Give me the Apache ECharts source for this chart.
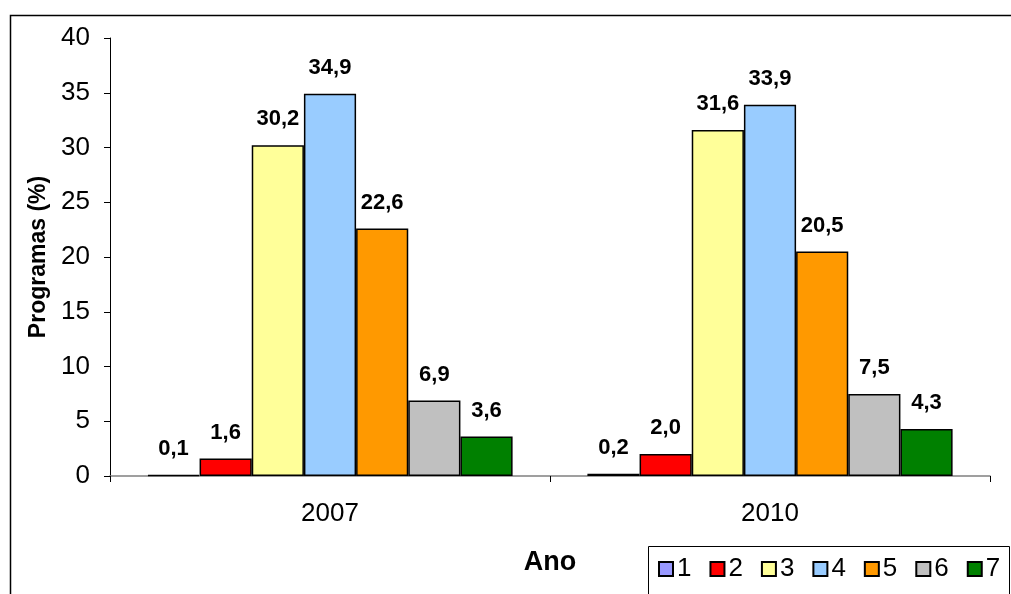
<!DOCTYPE html>
<html>
<head>
<meta charset="utf-8">
<script src="https://cdn.jsdelivr.net/npm/echarts@6/dist/echarts.min.js"></script>
<style>
  html, body { margin: 0; padding: 0; background: #fff; }
  #chart { width: 1011px; height: 594px; }
</style>
</head>
<body>
<div id="chart"></div>
<script>
const anos = ['2007', '2010'];
const seriesNames = ['1', '2', '3', '4', '5', '6', '7'];
const s1 = [0.1, 0.2];
const s2 = [1.6, 2.0];
const s3 = [30.2, 31.6];
const s4 = [34.9, 33.9];
const s5 = [22.6, 20.5];
const s6 = [6.9, 7.5];
const s7 = [3.6, 4.3];
const valores = [s1, s2, s3, s4, s5, s6, s7];
const cores = ['#9999FF', '#FF0000', '#FFFF99', '#99CCFF', '#FF9900', '#C0C0C0', '#008000'];

const font = 'Liberation Sans, Arial, sans-serif';
const myChart = echarts.init(document.getElementById('chart'));

const option = {
  backgroundColor: '#fff',
  animation: false,
  graphic: [
    {
      type: 'rect',
      shape: { x: 10.5, y: 15.5, width: 1100, height: 700 },
      style: { fill: 'none', stroke: '#000', lineWidth: 1.5 },
      z: 0
    },
    {
      // caixa da legenda
      type: 'rect',
      shape: { x: 648.5, y: 546.5, width: 361, height: 100 },
      style: { fill: '#fff', stroke: '#000', lineWidth: 1 },
      z: 1
    }
  ],
  grid: { left: 110, right: 21, top: 38, bottom: 118 },
  legend: {
    data: seriesNames,
    left: 658,
    top: 556,
    padding: 0,
    icon: 'rect',
    itemWidth: 14,
    itemHeight: 14,
    itemGap: 18,
    textStyle: { fontFamily: font, fontSize: 26, color: '#000', padding: [0, 0, 0, -1] },
    z: 5
  },
  xAxis: {
    type: 'category',
    data: anos,
    name: 'Ano',
    nameLocation: 'middle',
    nameGap: 73,
    nameTextStyle: { fontFamily: font, fontSize: 27, fontWeight: 'bold', color: '#000' },
    axisLine: { lineStyle: { color: '#808080', width: 1.5 } },
    axisTick: { show: true, length: 6, lineStyle: { color: '#000' } },
    axisLabel: { fontFamily: font, fontSize: 26, color: '#000', margin: 25 }
  },
  yAxis: {
    type: 'value',
    min: 0,
    max: 40,
    interval: 5,
    name: 'Programas (%)',
    nameLocation: 'middle',
    nameGap: 57,
    nameTextStyle: { fontFamily: font, fontSize: 23, fontWeight: 'bold', color: '#000' },
    axisLine: { show: true, lineStyle: { color: '#000', width: 1 } },
    axisTick: { show: true, length: 6, lineStyle: { color: '#000' } },
    splitLine: { show: false },
    axisLabel: { fontFamily: font, fontSize: 26, color: '#000', margin: 20 }
  },
  series: seriesNames.map((nome, i) => ({
    name: nome,
    type: 'bar',
    data: valores[i],
    barGap: '0%',
    barCategoryGap: '17%',
    itemStyle: { color: cores[i], borderColor: '#000', borderWidth: 1.5 },
    label: {
      show: true,
      position: 'top',
      distance: 15,
      fontFamily: font,
      fontSize: 22,
      fontWeight: 'bold',
      color: '#000',
      formatter: p => p.value.toFixed(1).replace('.', ',')
    }
  }))
};

myChart.setOption(option);
window.addEventListener('resize', function () {
  myChart.resize();
});
</script>
</body>
</html>
